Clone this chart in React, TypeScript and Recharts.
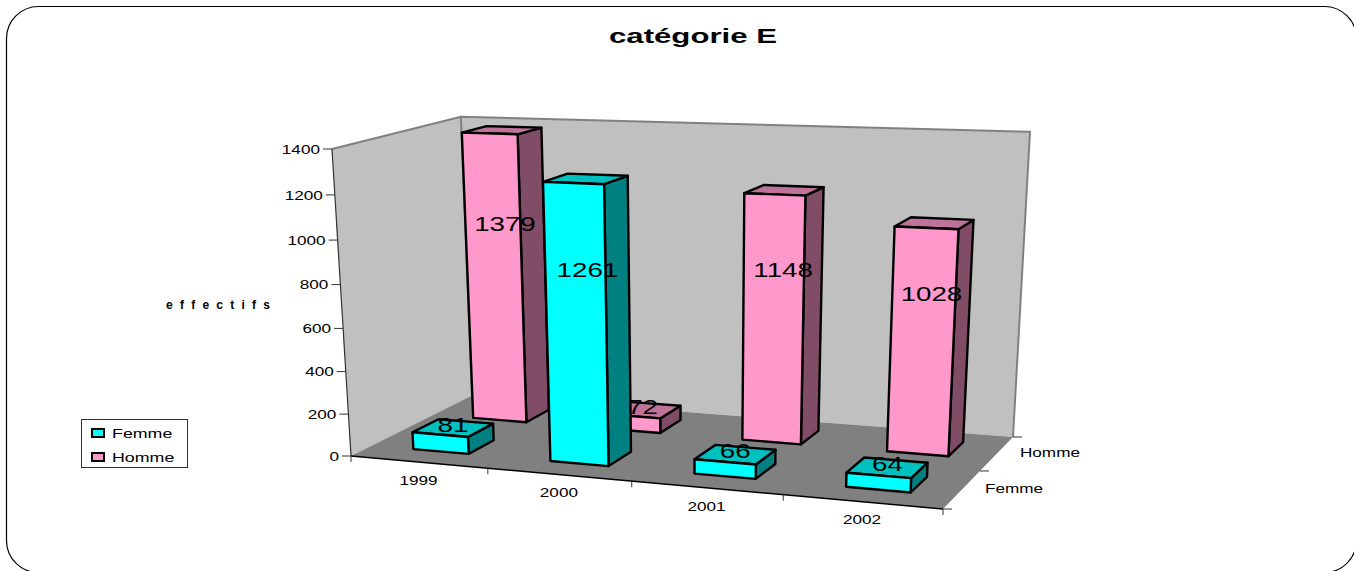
import { BarChart, Bar, XAxis, YAxis, CartesianGrid, Legend } from 'recharts';

const years = ['1999', '2000', '2001', '2002'];
const femme = [81, 1261, 66, 64];
const homme = [1379, 72, 1148, 1028];
const seriesNames = ['Femme', 'Homme'];
const valueTicks = [0, 200, 400, 600, 800, 1000, 1200, 1400];

const data = years.map((year, i) => ({ year, Femme: femme[i], Homme: homme[i] }));

const WIDTH = 1354;
const HEIGHT = 571;
const PLOT = { left: 100, top: 100, width: 800, height: 350 };
const FONT = '"Liberation Sans", Arial, sans-serif';
const BAR_SIZE = 82;
const BAR_SHIFT = 0.004;
const STRETCH = 1.32;

const COLORS: Record<string, { front: string; side: string; top: string }> = {
  Femme: { front: '#00FFFF', side: '#008080', top: '#00BFBF' },
  Homme: { front: '#FF99CC', side: '#804C66', top: '#BF7399' },
};
const DEPTHS: Record<string, [number, number]> = {
  Femme: [0.16, 0.37],
  Homme: [0.66, 0.87],
};

type Pt = [number, number];

// floor homography from its four corners, then extended with the height axis
// so the top of the box shares the floor's vanishing points
function makeProjection(p00: Pt, p10: Pt, p11: Pt, p01: Pt, topFrontLeft: Pt, topBackRight: Pt) {
  const dx1 = p10[0] - p11[0];
  const dx2 = p01[0] - p11[0];
  const sx = p00[0] - p10[0] + p11[0] - p01[0];
  const dy1 = p10[1] - p11[1];
  const dy2 = p01[1] - p11[1];
  const sy = p00[1] - p10[1] + p11[1] - p01[1];
  const det = dx1 * dy2 - dx2 * dy1;
  const g = (sx * dy2 - dx2 * sy) / det;
  const h = (dx1 * sy - sx * dy1) / det;
  const a = p10[0] - p00[0] + g * p10[0];
  const b = p01[0] - p00[0] + h * p01[0];
  const d = p10[1] - p00[1] + g * p10[1];
  const e = p01[1] - p00[1] + h * p01[1];
  const K = (a + b - topBackRight[0] * (g + h)) / (topBackRight[0] - topFrontLeft[0]);
  const cx = K * topFrontLeft[0] - p00[0];
  const cy = K * topFrontLeft[1] - p00[1];
  return (u: number, v: number, z: number): Pt => {
    const w = g * u + h * v + (K - 1) * z + 1;
    return [(a * u + b * v + cx * z + p00[0]) / w, (d * u + e * v + cy * z + p00[1]) / w];
  };
}

const project = makeProjection([351, 456], [943, 509], [1013, 437], [472, 395.5], [332, 149], [1030, 140]);

const poly = (pts: Pt[]) => pts.map((p) => `${p[0].toFixed(1)},${p[1].toFixed(1)}`).join(' ');

function Txt({ x, y, size, anchor = 'middle', children }: any) {
  return (
    <text
      transform={`translate(${x} ${y}) scale(${STRETCH} 1)`}
      textAnchor={anchor}
      dominantBaseline="central"
      fontFamily={FONT}
      fontSize={size}
      fill="#000"
    >
      {children}
    </text>
  );
}

function Line3({ a, b, stroke = '#000', width = 1 }: any) {
  return <line x1={a[0]} y1={a[1]} x2={b[0]} y2={b[1]} stroke={stroke} strokeWidth={width} />;
}

function Room() {
  const depthTicks = [0, 0.5, 1];
  return (
    <g>
      <rect x={6.5} y={6.5} width={1350} height={566} rx={32} fill="#fff" stroke="#000" strokeWidth={1.2} />
      <text
        x={693}
        y={35}
        textAnchor="middle"
        dominantBaseline="central"
        fontFamily={FONT}
        fontWeight="bold"
        fontSize={21}
        textLength={168}
        lengthAdjust="spacingAndGlyphs"
      >
        catégorie E
      </text>
      <text
        x={218}
        y={305}
        textAnchor="middle"
        dominantBaseline="central"
        fontFamily={FONT}
        fontWeight="bold"
        fontSize={12}
        textLength={104}
        lengthAdjust="spacing"
      >
        effectifs
      </text>
      <polygon points={poly([project(0, 0, 0), project(0, 1, 0), project(0, 1, 1), project(0, 0, 1)])} fill="#C0C0C0" />
      <polygon points={poly([project(0, 1, 0), project(1, 1, 0), project(1, 1, 1), project(0, 1, 1)])} fill="#C0C0C0" />
      <polygon points={poly([project(0, 0, 0), project(1, 0, 0), project(1, 1, 0), project(0, 1, 0)])} fill="#808080" />
      <polyline
        points={poly([project(0, 0, 1), project(0, 1, 1), project(1, 1, 1), project(1, 1, 0)])}
        fill="none"
        stroke="#808080"
        strokeWidth={2}
      />
      <Line3 a={project(0, 1, 0)} b={project(0, 1, 1)} stroke="#808080" width={2} />
      <Line3 a={project(0, 0, 0)} b={project(0, 0, 1)} stroke="#333" width={1.2} />
      <Line3 a={project(0, 0, 0)} b={project(1, 0, 0)} width={1.5} />
      {depthTicks.map((d) => {
        const p = project(1, d, 0);
        return <Line3 key={d} a={p} b={[p[0] + 9, p[1]]} stroke="#333" />;
      })}
      {seriesNames.map((name, i) => {
        const p = project(1, 0.25 + i * 0.5, 0);
        return (
          <Txt key={name} x={p[0] + 23} y={p[1] - 1} size={13} anchor="start">
            {name}
          </Txt>
        );
      })}
    </g>
  );
}

function ValueTick({ y, payload }: any) {
  const h = (PLOT.top + PLOT.height - y) / PLOT.height;
  const p = project(0, 0, h);
  return (
    <g>
      <Line3 a={[p[0] - 9, p[1]]} b={p} stroke="#333" />
      <Txt x={p[0] - 12} y={p[1]} size={13} anchor="end">
        {payload.value}
      </Txt>
    </g>
  );
}

function YearTick({ x, payload, index }: any) {
  const u = (x - PLOT.left) / PLOT.width;
  const half = 1 / years.length / 2;
  const p = project(u, 0, 0);
  const right = project(u + half, 0, 0);
  const left = project(u - half, 0, 0);
  return (
    <g>
      {index === 0 && <Line3 a={left} b={[left[0], left[1] + 6]} stroke="#333" />}
      <Line3 a={right} b={[right[0], right[1] + 6]} stroke="#333" />
      <Txt x={p[0]} y={p[1] + 18} size={13}>
        {payload.value}
      </Txt>
    </g>
  );
}

function DepthGridLine({ y1 }: any) {
  const h = (PLOT.top + PLOT.height - y1) / PLOT.height;
  if (h < 0.01 || h > 0.99) return <g />;
  return (
    <polyline
      points={poly([project(0, 0, h), project(0, 1, h), project(1, 1, h)])}
      fill="none"
      stroke="#000"
      strokeWidth={1}
      strokeDasharray="8 8"
    />
  );
}

function Column3D({ x, width, height, value, name }: any) {
  const [d0, d1] = DEPTHS[name];
  const colors = COLORS[name];
  const u0 = (x - PLOT.left) / PLOT.width + BAR_SHIFT;
  const u1 = (x + width - PLOT.left) / PLOT.width + BAR_SHIFT;
  const h = height / PLOT.height;
  const label = project((u0 + u1) / 2, (d0 + d1) / 2, h * 0.65 + 0.03);
  const edge = { stroke: '#000', strokeWidth: 2.4, strokeLinejoin: 'round' as const };
  return (
    <g>
      <polygon points={poly([project(u1, d0, 0), project(u1, d1, 0), project(u1, d1, h), project(u1, d0, h)])} fill={colors.side} {...edge} />
      <polygon points={poly([project(u0, d0, h), project(u1, d0, h), project(u1, d1, h), project(u0, d1, h)])} fill={colors.top} {...edge} />
      <polygon points={poly([project(u0, d0, 0), project(u1, d0, 0), project(u1, d0, h), project(u0, d0, h)])} fill={colors.front} {...edge} />
      <Txt x={label[0]} y={label[1]} size={21}>
        {value}
      </Txt>
    </g>
  );
}

function LegendBox() {
  return (
    <svg width={107} height={49} style={{ display: 'block' }}>
      <rect x={0.5} y={0.5} width={106} height={48} fill="#fff" stroke="#333" />
      {seriesNames.map((name, i) => (
        <g key={name}>
          <rect x={11} y={10 + i * 24} width={12} height={8} fill={COLORS[name].front} stroke="#000" strokeWidth={2} />
          <Txt x={31} y={14 + i * 24} size={13.5} anchor="start">
            {name}
          </Txt>
        </g>
      ))}
    </svg>
  );
}

export default function App() {
  return (
    <div style={{ position: 'absolute', left: 0, top: 0, width: WIDTH, height: HEIGHT, overflow: 'hidden' }}>
      <BarChart
        width={WIDTH}
        height={HEIGHT}
        data={data}
        margin={{
          left: PLOT.left - 1,
          top: PLOT.top,
          right: WIDTH - PLOT.left - PLOT.width,
          bottom: HEIGHT - PLOT.top - PLOT.height - 1,
        }}
        barSize={BAR_SIZE}
        barGap={-BAR_SIZE}
      >
        <Room />
        <CartesianGrid vertical={false} horizontal={(props: any) => <DepthGridLine key={props.key} {...props} />} />
        <XAxis dataKey="year" height={1} axisLine={false} tickLine={false} interval={0} tick={(props: any) => <YearTick {...props} />} />
        <YAxis
          width={1}
          domain={[0, 1400]}
          ticks={valueTicks}
          interval={0}
          axisLine={false}
          tickLine={false}
          tick={(props: any) => <ValueTick {...props} />}
        />
        <Legend
          layout="horizontal"
          verticalAlign="middle"
          wrapperStyle={{ position: 'absolute', left: 81, top: 419, width: 107, height: 49 }}
          content={() => <LegendBox />}
        />
        <Bar dataKey="Homme" isAnimationActive={false} shape={(props: any) => <Column3D {...props} name="Homme" value={props.payload.Homme} />} />
        <Bar dataKey="Femme" isAnimationActive={false} shape={(props: any) => <Column3D {...props} name="Femme" value={props.payload.Femme} />} />
      </BarChart>
    </div>
  );
}
